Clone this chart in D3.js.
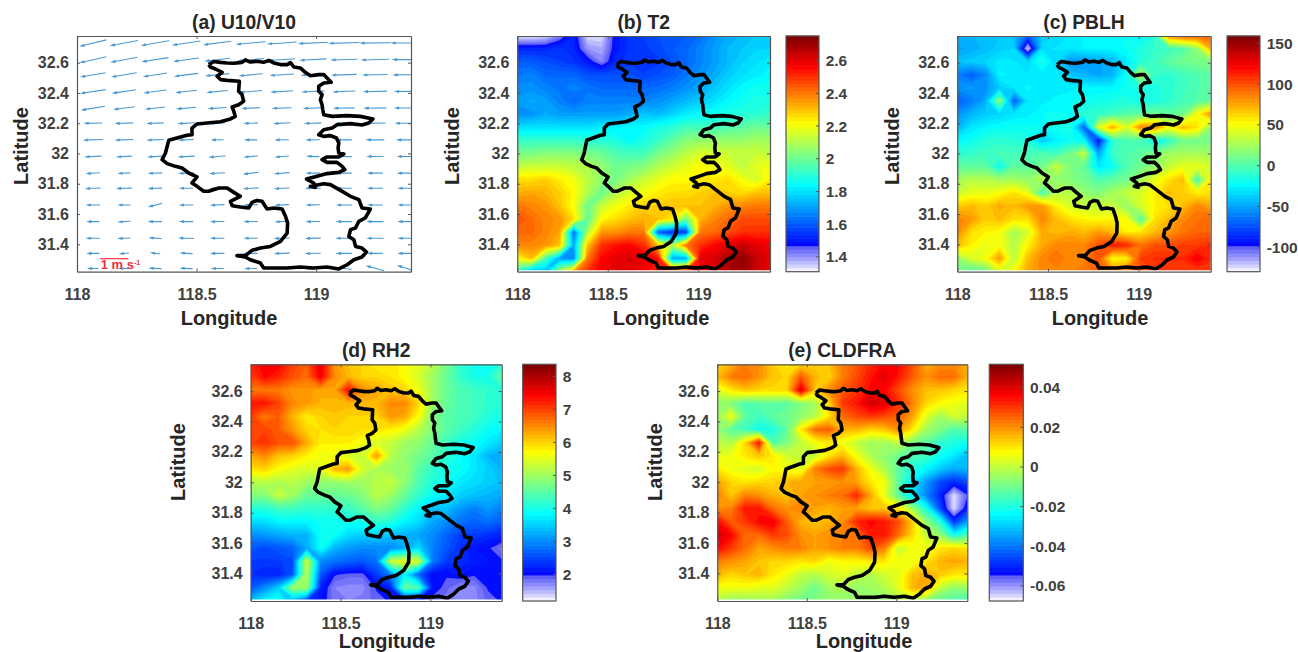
<!DOCTYPE html>
<html><head><meta charset="utf-8">
<script src="https://cdn.jsdelivr.net/npm/d3@7"></script>
<style>html,body{margin:0;background:#fff}svg{display:block}text{font-family:"Liberation Sans",Arial,sans-serif;font-weight:bold}</style>
</head><body><svg id="c" width="1298" height="652"></svg>
<script>
const gridLons=[118.00,118.08,118.16,118.23,118.31,118.39,118.47,118.54,118.62,118.70,118.78,118.86,118.93,119.01,119.09,119.17,119.24,119.32,119.40];
const gridLats=[32.78,32.69,32.61,32.52,32.43,32.35,32.26,32.17,32.09,32.00,31.91,31.83,31.74,31.65,31.57,31.48,31.39,31.31,31.22];
const t2Grid=[
[1.31,1.31,1.33,1.42,1.52,1.33,1.33,1.50,1.55,1.56,1.58,1.60,1.60,1.63,1.68,1.72,1.74,1.76,1.78],
[1.52,1.52,1.52,1.54,1.52,1.40,1.38,1.50,1.54,1.55,1.57,1.60,1.62,1.66,1.70,1.74,1.76,1.78,1.78],
[1.60,1.60,1.58,1.56,1.54,1.50,1.42,1.52,1.55,1.54,1.55,1.58,1.62,1.66,1.70,1.74,1.78,1.80,1.82],
[1.64,1.66,1.62,1.62,1.62,1.58,1.58,1.58,1.58,1.56,1.58,1.60,1.64,1.68,1.72,1.77,1.80,1.82,1.84],
[1.68,1.68,1.66,1.64,1.66,1.64,1.62,1.62,1.62,1.62,1.63,1.65,1.68,1.71,1.76,1.80,1.84,1.86,1.86],
[1.70,1.72,1.70,1.66,1.62,1.66,1.66,1.66,1.66,1.66,1.68,1.71,1.74,1.77,1.80,1.84,1.86,1.88,1.88],
[1.68,1.68,1.72,1.70,1.70,1.70,1.70,1.70,1.72,1.76,1.74,1.78,1.82,1.84,1.86,1.88,1.90,1.90,1.92],
[1.80,1.80,1.80,1.80,1.80,1.80,1.82,1.82,1.84,1.84,1.88,1.90,1.94,1.94,1.94,1.96,1.98,2.00,2.00],
[1.92,1.92,1.92,1.92,1.92,1.90,1.90,1.88,1.84,1.88,1.92,1.98,2.04,2.06,2.06,2.06,2.06,2.08,2.08],
[2.02,2.02,2.04,2.04,2.04,2.02,2.00,1.96,1.94,1.94,2.02,2.06,2.12,2.16,2.16,2.14,2.14,2.14,2.12],
[2.12,2.14,2.14,2.14,2.12,2.10,2.06,2.00,2.02,2.04,2.10,2.14,2.18,2.22,2.20,2.18,2.12,2.18,2.20],
[2.26,2.26,2.28,2.24,2.20,2.12,2.05,2.02,2.08,2.14,2.18,2.22,2.22,2.24,2.24,2.26,2.20,2.15,2.24],
[2.32,2.34,2.32,2.28,2.22,2.10,2.00,2.10,2.16,2.20,2.24,2.26,2.26,2.28,2.30,2.28,2.26,2.30,2.30],
[2.40,2.38,2.36,2.30,2.20,2.00,2.14,2.20,2.24,2.28,2.28,2.30,2.30,2.30,2.32,2.36,2.38,2.40,2.40],
[2.46,2.42,2.38,2.36,2.26,1.98,2.22,2.26,2.30,2.32,2.30,2.24,2.00,2.32,2.38,2.42,2.46,2.46,2.46],
[2.42,2.42,2.38,2.34,1.62,2.10,2.36,2.36,2.40,2.40,1.60,1.52,1.55,2.40,2.42,2.46,2.50,2.50,2.50],
[2.38,2.38,2.36,2.30,1.70,2.30,2.50,2.54,2.56,2.50,2.30,2.10,2.40,2.50,2.56,2.60,2.64,2.60,2.58],
[2.20,2.30,1.95,1.70,1.65,2.40,2.56,2.60,2.62,2.60,2.55,1.70,1.70,2.60,2.62,2.68,2.72,2.64,2.60],
[1.90,1.70,1.75,2.10,2.35,2.50,2.58,2.60,2.60,2.56,2.52,2.50,2.50,2.54,2.60,2.68,2.70,2.64,2.60]];
const pblhGrid=[
[-45,-45,-40,-40,-42,-70,-40,-35,-30,-25,-25,-25,-22,-25,-10,85,100,100,95],
[-50,-48,-42,-38,-35,-125,-32,-30,-30,-26,-25,-25,-20,-15,-8,-5,0,20,75],
[-40,-38,-35,-28,-30,-35,-15,-35,-55,-55,-50,-45,-30,-12,-5,5,10,12,15],
[-60,-72,-58,-25,-28,-30,-30,-28,-40,-45,-50,-45,-20,30,-8,-10,-5,0,5],
[-55,-52,-55,-38,-30,-25,-28,-28,-28,-25,-25,-25,-20,-12,-15,-10,-5,0,5],
[-70,-62,-48,20,-72,-30,-28,-25,-22,-20,-18,-15,-15,-18,-15,-10,-3,2,5],
[-55,-45,-38,-35,-30,-28,-22,-20,-22,-10,-8,-5,2,5,10,5,10,50,85],
[-45,-30,-25,-22,-20,-20,-22,-18,-15,-70,40,75,40,85,85,50,70,60,20],
[-25,-20,-12,-10,-12,-15,-40,-28,-20,-25,-95,-10,0,-3,-25,-10,10,10,10],
[-10,-8,-5,-3,-3,-2,0,-5,10,35,-50,-5,0,5,15,25,25,25,25],
[5,5,5,-20,5,5,10,35,15,5,-30,-20,0,10,20,35,45,45,40],
[25,30,30,25,25,20,30,20,15,10,0,5,10,25,45,60,70,-5,60],
[35,45,45,50,60,45,-5,30,30,20,15,25,35,40,55,70,65,55,60],
[65,70,65,75,70,80,80,55,40,35,35,35,20,40,55,60,70,85,75],
[85,80,65,70,60,60,85,70,60,55,50,55,50,0,60,70,85,90,95],
[85,60,55,50,25,40,75,70,75,70,80,70,55,60,70,80,90,95,95],
[70,55,45,50,30,55,75,85,85,85,100,115,110,90,100,100,105,105,110],
[20,40,50,80,30,70,85,90,85,85,100,50,55,105,110,110,110,125,110],
[10,0,5,40,50,75,85,85,85,90,95,85,90,100,105,105,105,105,105]];
const rh2Grid=[
[7.2,7.5,7.5,7.0,6.8,7.6,6.4,6.1,6.0,5.8,5.9,5.7,5.5,5.2,4.7,4.2,3.9,3.9,4.2],
[7.0,7.4,7.2,6.9,6.7,7.5,6.5,6.2,6.0,6.0,5.9,5.7,5.4,5.0,4.6,4.2,4.0,4.0,4.6],
[6.6,6.6,6.6,6.4,6.4,6.3,6.3,7.4,6.5,6.3,6.1,6.0,5.6,5.0,4.6,4.4,4.3,4.2,4.1],
[7.3,7.3,7.0,6.5,6.4,6.2,6.2,6.2,6.2,6.2,6.5,6.5,6.0,5.0,4.6,4.4,4.3,4.2,4.1],
[7.0,6.6,6.8,6.2,5.8,6.0,6.1,6.0,6.0,6.0,6.4,6.3,5.7,4.8,4.5,4.4,4.3,4.1,4.0],
[7.0,7.0,6.8,6.4,6.0,5.9,6.0,6.0,5.9,5.9,5.8,5.6,5.2,4.8,4.5,4.3,4.1,3.9,3.8],
[7.0,7.1,6.9,6.9,6.3,5.8,5.8,5.8,5.6,5.4,5.3,5.0,4.9,4.6,4.3,4.0,3.9,3.7,3.5],
[6.3,6.5,6.1,6.0,5.8,5.6,5.6,5.4,5.3,6.4,5.2,4.9,4.7,4.5,4.2,3.9,3.7,3.3,3.2],
[5.9,6.0,5.7,5.5,5.4,5.5,6.2,6.4,5.4,5.1,5.0,5.0,4.5,4.2,4.0,3.9,3.7,3.5,3.3],
[5.1,5.2,5.1,5.2,5.0,4.9,4.9,5.0,5.0,5.2,5.3,4.9,4.4,4.1,3.9,3.7,3.6,3.5,3.4],
[4.8,4.8,5.3,5.0,4.6,4.6,4.6,4.6,4.8,5.2,5.0,4.6,4.2,3.9,3.7,3.5,3.4,3.3,3.2],
[4.1,4.1,4.3,4.3,4.2,4.2,4.2,4.3,4.5,4.8,4.6,4.2,3.8,3.4,3.4,3.1,2.9,3.1,2.9],
[3.6,3.6,3.8,3.8,3.8,3.9,3.9,3.9,4.0,4.2,4.1,3.8,3.6,3.2,3.0,2.8,2.7,2.8,2.6],
[3.0,3.1,3.2,3.3,3.3,3.9,3.9,3.6,3.5,3.5,3.4,3.3,3.2,3.0,2.7,2.4,2.4,2.3,2.2],
[2.6,2.5,2.6,2.7,3.2,3.9,3.3,3.1,3.0,3.0,3.0,3.2,3.6,2.9,2.6,2.3,2.1,2.0,1.8],
[2.4,2.4,2.4,2.5,5.4,3.0,2.8,2.7,2.6,2.8,5.3,5.6,5.4,2.9,2.4,2.3,2.15,2.1,2.0],
[2.3,2.2,2.2,2.6,5.2,2.6,2.0,1.9,1.9,2.4,2.9,3.8,2.7,2.0,2.0,2.1,2.0,2.05,2.1],
[2.6,3.0,3.5,5.0,5.0,2.2,1.75,1.7,1.7,2.0,2.2,4.6,4.4,2.1,1.9,1.7,1.7,2.0,2.1],
[3.4,3.8,4.0,3.2,2.4,2.1,1.8,1.75,1.8,1.9,2.0,2.0,2.0,1.9,1.8,1.7,1.7,1.9,2.0]];
const cldfraGrid=[
[.012,.016,.022,.020,.013,.010,.012,.013,.014,.022,.026,.032,.036,.036,.028,.016,.020,.020,.016],
[.015,.022,.024,.020,.014,.012,.026,.016,.012,.022,.028,.034,.040,.034,.026,.020,.024,.024,.016],
[.004,.010,.014,.012,.012,.012,.040,.014,.020,.026,.030,.036,.036,.028,.020,.015,.014,.012,.010],
[-.006,-.008,-.014,-.012,-.012,-.012,-.008,-.004,.012,.030,.034,.042,.040,.032,.022,.012,.008,.006,.004],
[-.004,.006,-.012,-.016,-.012,-.010,-.006,-.002,.010,.024,.028,.030,.028,.026,.018,.004,-.004,.002,.000],
[-.006,-.012,-.016,-.022,-.020,-.012,.010,.024,.026,.016,.016,.012,.014,.020,.010,-.004,-.008,-.014,-.012],
[.000,-.002,.012,.034,-.014,-.008,.000,.006,.010,.006,.000,-.004,-.004,.000,-.008,-.012,-.018,-.020,-.022],
[.004,.006,.010,.014,.010,.002,.000,.000,.010,.016,.006,-.002,-.006,-.010,-.014,-.016,-.022,-.026,-.032],
[.010,.006,.004,.002,.008,.006,.004,.022,.028,.030,.016,.006,-.002,-.012,-.020,-.024,-.030,-.034,-.032],
[.018,.012,.010,.012,.012,.016,.018,.018,.018,.020,.018,.010,.006,-.012,-.026,-.036,-.046,-.050,-.046],
[.022,.014,.022,.020,.016,.014,.018,.020,.022,.024,.032,.018,.004,-.012,-.026,-.038,-.050,-.066,-.055],
[.020,.022,.034,.034,.024,.020,.022,.018,.016,.018,.018,.014,.014,.010,-.004,-.020,-.045,-.066,-.050],
[.036,.026,.030,.036,.038,.026,.016,.014,.016,.020,.032,.036,.034,.028,.014,-.006,-.018,-.048,-.035],
[.042,.036,.024,.024,.030,.028,.020,.018,.020,.022,.022,.034,.034,.024,.012,.000,-.006,-.022,-.014],
[.036,.030,.024,.018,.020,.022,.022,.018,.020,.022,.022,.028,.022,.000,.006,.006,.010,.012,.010],
[.022,.020,.018,.014,.012,.012,.010,.012,.006,.008,.008,.010,.010,.006,.006,.010,.016,.018,.016],
[.016,.012,.014,.016,.010,.006,.000,-.002,.002,.004,.000,-.002,.002,.004,.014,.018,.014,.010,.010],
[.006,.006,.006,.004,.004,.000,-.004,-.010,-.004,-.002,-.006,-.004,-.002,.004,.016,.018,.000,-.006,-.004],
[-.002,-.006,-.006,-.004,-.004,-.008,-.010,-.008,-.006,-.006,-.006,-.006,-.006,-.002,-.002,-.008,-.012,-.014,-.016]];
const boundaryLon=[118.551,118.572,118.600,118.628,118.656,118.690,118.704,118.725,118.753,118.781,118.802,118.823,118.851,118.879,118.893,118.907,118.934,118.955,118.976,119.011,119.032,119.050,119.063,119.032,119.011,119.011,119.025,119.018,119.025,119.028,119.032,119.067,119.130,119.185,119.238,119.220,119.192,119.144,119.088,119.067,119.032,119.011,119.032,119.060,119.085,119.095,119.092,119.095,119.116,119.095,119.046,119.025,119.046,119.088,119.109,119.120,119.095,119.046,119.004,118.960,118.990,118.997,118.976,119.032,119.060,119.102,119.144,119.179,119.192,119.227,119.206,119.179,119.165,119.144,119.137,119.158,119.165,119.192,119.211,119.192,119.158,119.130,119.095,119.046,118.990,118.934,118.879,118.823,118.781,118.767,118.725,118.704,118.669,118.704,118.732,118.767,118.809,118.851,118.879,118.881,118.872,118.858,118.823,118.795,118.774,118.753,118.732,118.718,118.683,118.649,118.642,118.683,118.656,118.628,118.593,118.551,118.530,118.502,118.481,118.502,118.467,118.439,118.411,118.377,118.356,118.370,118.379,118.384,118.418,118.460,118.481,118.481,118.502,118.544,118.600,118.642,118.662,118.656,118.649,118.676,118.697,118.690,118.676,118.679,118.628,118.600,118.586,118.607,118.579,118.558,118.551];
const boundaryLat=[32.587,32.607,32.602,32.598,32.596,32.602,32.618,32.604,32.609,32.602,32.615,32.598,32.587,32.587,32.600,32.571,32.565,32.536,32.514,32.521,32.521,32.492,32.470,32.466,32.444,32.411,32.389,32.356,32.322,32.289,32.256,32.245,32.250,32.245,32.228,32.201,32.188,32.197,32.190,32.168,32.157,32.124,32.113,32.118,32.102,32.069,32.036,32.003,31.997,31.977,31.977,31.959,31.941,31.941,31.915,31.893,31.875,31.867,31.849,31.831,31.805,31.776,31.783,31.800,31.794,31.756,31.717,31.695,31.640,31.633,31.574,31.552,31.508,31.497,31.452,31.430,31.386,31.375,31.349,31.316,31.298,31.265,31.237,31.250,31.243,31.250,31.243,31.243,31.243,31.276,31.298,31.316,31.325,31.325,31.360,31.375,31.386,31.419,31.474,31.541,31.585,31.633,31.640,31.633,31.684,31.690,31.677,31.640,31.646,31.655,31.684,31.717,31.743,31.772,31.772,31.750,31.750,31.783,31.805,31.845,31.871,31.904,31.915,31.933,31.959,32.003,32.058,32.087,32.102,32.120,32.124,32.168,32.195,32.201,32.210,32.228,32.245,32.278,32.307,32.322,32.345,32.389,32.411,32.477,32.483,32.488,32.510,32.536,32.558,32.571,32.587];
const windLons=[118.07,118.20,118.33,118.46,118.59,118.73,118.86,118.99,119.12,119.25,119.38];
const windLats=[32.73,32.62,32.52,32.41,32.30,32.20,32.09,31.98,31.87,31.77,31.66,31.55,31.44,31.34,31.24];
const windU=[
[-.9,-.95,-.95,-.95,-.95,-1,-1,-1,-1.05,-1.05,-1.05],
[-.9,-.9,-.9,-.85,-.85,-.9,-.9,-.9,-.9,-.95,-.95],
[-.85,-.85,-.8,-.8,-.8,-.8,-.8,-.8,-.85,-.85,-.9],
[-.85,-.8,-.75,-.7,-.7,-.75,-.75,-.75,-.75,-.8,-.8],
[-.8,-.7,-.65,-.65,-.6,-.6,-.65,-.65,-.7,-.75,-.8],
[-.6,-.6,-.55,-.55,-.5,-.45,-.55,-.55,-.6,-.7,-.75],
[-.65,-.6,-.55,-.5,-.4,-.4,-.45,-.45,-.5,-.6,-.65],
[-.55,-.5,-.5,-.55,-.55,-.45,-.45,-.4,-.5,-.55,-.6],
[-.45,-.4,-.45,-.5,-.5,-.5,-.5,-.45,-.5,-.5,-.6],
[-.5,-.5,-.45,-.45,-.5,-.5,-.5,-.5,-.5,-.5,-.55],
[-.45,-.4,-.45,-.45,-.45,-.45,-.45,-.45,-.5,-.5,-.55],
[-.4,-.4,-.45,-.45,-.45,-.45,-.45,-.45,-.5,-.55,-.55],
[-.45,-.4,-.4,-.5,-.45,-.45,-.5,-.5,-.55,-.55,-.55],
[-.4,-.3,-.3,-.4,-.45,-.45,-.5,-.5,-.5,-.5,-.55],
[-.35,-.35,-.4,-.4,-.4,-.4,-.5,-.45,-.5,-.6,-.6]];
const windV=[
[-.22,-.18,-.16,-.14,-.12,-.09,-.07,-.05,-.03,-.01,0],
[-.2,-.17,-.14,-.12,-.1,-.08,-.06,-.05,-.03,-.03,0],
[-.14,-.14,-.12,-.1,-.08,-.07,-.05,-.03,-.03,-.02,-.01],
[-.13,-.12,-.1,-.08,-.07,-.06,-.05,-.04,-.03,-.02,-.01],
[-.13,-.09,-.07,-.06,-.04,-.03,-.02,-.02,-.01,-.01,0],
[-.01,-.02,-.02,-.03,-.03,-.02,-.03,-.02,-.02,-.01,0],
[-.02,-.02,-.02,-.02,-.01,0,-.01,-.01,0,0,0],
[-.03,-.03,-.03,-.03,-.05,-.04,-.04,.01,.01,0,0],
[-.03,-.02,-.02,-.02,-.03,-.06,-.04,0,0,0,0],
[-.02,-.01,-.01,0,-.02,-.03,-.02,0,0,0,0],
[0,0,-.12,0,-.02,-.02,-.02,-.01,0,0,0],
[0,-.02,0,0,-.01,-.01,-.02,-.01,0,0,0],
[0,-.02,.03,.02,0,0,-.02,-.01,0,0,0],
[0,-.03,.04,.02,0,0,-.02,-.01,0,0,0],
[0,0,.01,.01,0,0,0,-.03,.05,.16,.2]];
const lonTicks=[118,118.5,119];
const latTicks=[31.4,31.6,31.8,32,32.2,32.4,32.6];
const t2Ticks=[1.4,1.6,1.8,2,2.2,2.4,2.6];
const pblhTicks=[-100,-50,0,50,100,150];
const rh2Ticks=[2,3,4,5,6,7,8];
const cldfraTicks=[-0.06,-0.04,-0.02,0,0.02,0.04];
const titles=["(a) U10/V10","(b) T2","(c) PBLH","(d) RH2","(e) CLDFRA"];

const lonDomain=[118,119.397], latDomain=[31.219,32.776];
const axisColor="#555", textColor="#404040";
const colormap=d3.scaleLinear()
 .domain([0,.03,.07,.105,.11,.37,.63,.87,1])
 .range(["#ffffff","#c8c8ff","#8c8cff","#5c5cf4","#0000ff","#00ffff","#ffff00","#ff0000","#7a0000"])
 .interpolate(d3.interpolateRgb);
const svg=d3.select("#c");
const defs=svg.append("defs");
defs.append("filter").attr("id","soft").attr("x","-2%").attr("y","-2%").attr("width","104%").attr("height","104%")
 .append("feGaussianBlur").attr("stdDeviation",.7);

function panel(idx,o){
 const g=svg.append("g");
 const x=d3.scaleLinear(lonDomain,[o.x0,o.x1]), y=d3.scaleLinear(latDomain,[o.y1,o.y0]);
 const clipId="clip"+idx;
 defs.append("clipPath").attr("id",clipId).append("rect").attr("x",o.x0).attr("y",o.y0).attr("width",o.x1-o.x0).attr("height",o.y1-o.y0-(o.grid?1.5:0));
 const plot=g.append("g").attr("clip-path",`url(#${clipId})`);
 if(o.grid){
  const nx=gridLons.length, ny=gridLats.length, flat=o.grid.flat();
  if(flat.length!==nx*ny) throw new Error("grid size "+idx);
  const sx=d3.scaleLinear([.5,nx-.5],[x(gridLons[0]),x(gridLons[nx-1])]);
  const sy=d3.scaleLinear([.5,ny-.5],[y(gridLats[0]),y(gridLats[ny-1])]);
  const path=d3.geoPath(d3.geoTransform({point(a,b){this.stream.point(sx(a),sy(b));}}));
  const N=64, lv=d3.range(N).map(i=>o.cmin+(o.cmax-o.cmin)*i/N);
  const mid=t=>colormap((t-o.cmin+(o.cmax-o.cmin)/(2*N))/(o.cmax-o.cmin));
  const cs=d3.contours().size([nx,ny]).thresholds(lv)(flat.map(v=>Math.max(v,o.cmin+1e-9)));
  plot.append("g").attr("filter","url(#soft)").selectAll("path").data(cs).join("path").attr("d",path).attr("fill",d=>mid(d.value)).attr("stroke",d=>mid(d.value)).attr("stroke-width",.4);
  // colorbar
  const cy=d3.scaleLinear([o.cmin,o.cmax],[o.y1,o.y0]);
  g.selectAll("rect.cb").data(lv).join("rect").attr("x",o.cbx).attr("width",o.cbw)
   .attr("y",d=>cy(d)-(o.y1-o.y0)/N-.3).attr("height",(o.y1-o.y0)/N+.6).attr("fill",mid);
  g.append("rect").attr("x",o.cbx).attr("y",o.y0).attr("width",o.cbw).attr("height",o.y1-o.y0).attr("fill","none").attr("stroke",axisColor).attr("stroke-width",1.2);
  o.cticks.forEach(t=>{
   g.append("line").attr("x1",o.cbx+o.cbw-3).attr("x2",o.cbx+o.cbw).attr("y1",cy(t)).attr("y2",cy(t)).attr("stroke",axisColor);
   g.append("text").attr("x",o.cbx+o.cbw+6.7).attr("y",cy(t)+5.5).attr("font-size",15.5).attr("fill",textColor).text(t);
  });
 } else {
  // quiver
  const unit=28;
  const color="#4a9ad6";
  windLats.forEach((la,j)=>windLons.forEach((lo,i)=>{
   const dx=windU[j][i]*unit, dy=-windV[j][i]*unit, cx=x(lo), cy=y(la);
   const tx=cx+dx/2, ty=cy+dy/2, ang=Math.atan2(dy,dx), h=3.5;
   plot.append("path").attr("fill","none").attr("stroke",color).attr("stroke-width",1.1)
    .attr("d",`M${cx-dx/2},${cy-dy/2}L${tx},${ty}M${tx-h*Math.cos(ang-.3)},${ty-h*Math.sin(ang-.3)}L${tx},${ty}L${tx-h*Math.cos(ang+.3)},${ty-h*Math.sin(ang+.3)}`);
  }));
  g.append("line").attr("x1",x(118.097)).attr("x2",x(118.097)+unit).attr("y1",258.7).attr("y2",258.7).attr("stroke","#ff3040").attr("stroke-width",1.2);
  const lab=g.append("text").attr("x",x(118.097)+.5).attr("y",268.5).attr("font-size",13).attr("fill","#f03040");
  lab.append("tspan").text("1 m s");
  lab.append("tspan").attr("font-size",7).attr("dy",-4).text("-1");
 }
 // boundary
 const line=d3.line().x(d=>x(d[0])).y(d=>y(d[1]));
 plot.append("path").datum(d3.zip(boundaryLon,boundaryLat)).attr("d",line).attr("fill","none").attr("stroke","#000").attr("stroke-width",3.6).attr("stroke-linejoin","round");
 // axes
 const ax=(gen,tr)=>{const a=g.append("g").attr("transform",tr).call(gen);a.select(".domain").attr("stroke",axisColor).attr("stroke-width",1.2);a.selectAll(".tick line").attr("stroke",axisColor);return a;};
 const bx=ax(d3.axisBottom(x).tickValues(lonTicks).tickSize(-3).tickSizeOuter(0).tickPadding(17).tickFormat(d3.format("")),`translate(0,${o.y1})`);
 bx.selectAll("text").attr("font-size",16).attr("fill",textColor).attr("font-family",null);
 const ly=ax(d3.axisLeft(y).tickValues(latTicks).tickSize(-3).tickSizeOuter(0).tickPadding(8).tickFormat(d3.format("")),`translate(${o.x0},0)`);
 ly.selectAll("text").attr("font-size",16).attr("fill",textColor).attr("font-family",null);
 ax(d3.axisTop(x).tickValues(lonTicks).tickSize(-3).tickSizeOuter(0).tickFormat(""),`translate(0,${o.y0})`);
 ax(d3.axisRight(y).tickValues(latTicks).tickSize(-3).tickSizeOuter(0).tickFormat(""),`translate(${o.x1},0)`);
 // labels
 g.append("text").attr("x",(o.x0+o.x1)/2).attr("y",o.y0-7).attr("text-anchor","middle").attr("font-size",19.3).attr("fill","#262626").text(titles[idx]);
 g.append("text").attr("x",o.xlabX).attr("y",o.xlabY).attr("text-anchor","middle").attr("font-size",20).attr("fill","#262626").text("Longitude");
 g.append("text").attr("transform",`translate(${o.ylabX},${o.ylabC}) rotate(-90)`).attr("text-anchor","middle").attr("font-size",20).attr("fill","#262626").text("Latitude");
}
panel(0,{x0:77,x1:411,y0:36,y1:271.7,xlabX:229,xlabY:325,ylabX:28,ylabC:146});
panel(1,{grid:t2Grid,cmin:1.31,cmax:2.75,cticks:t2Ticks,x0:517.3,x1:770,y0:36,y1:271.7,cbx:786,cbw:33,xlabX:661,xlabY:325,ylabX:459,ylabC:146});
panel(2,{grid:pblhGrid,cmin:-130,cmax:159,cticks:pblhTicks,x0:957.3,x1:1210.7,y0:36,y1:271.7,cbx:1227,cbw:33,xlabX:1100,xlabY:325,ylabX:899,ylabC:146});
panel(3,{grid:rh2Grid,cmin:1.19,cmax:8.37,cticks:rh2Ticks,x0:250.7,x1:501.7,y0:364.3,y1:601,cbx:522.7,cbw:33.3,xlabX:387,xlabY:648,ylabX:185,ylabC:462});
panel(4,{grid:cldfraGrid,cmin:-.0676,cmax:.0518,cticks:cldfraTicks,x0:717.3,x1:967.3,y0:364.3,y1:601,cbx:989.3,cbw:34,xlabX:864,xlabY:648,ylabX:662,ylabC:462});
</script></body></html>
